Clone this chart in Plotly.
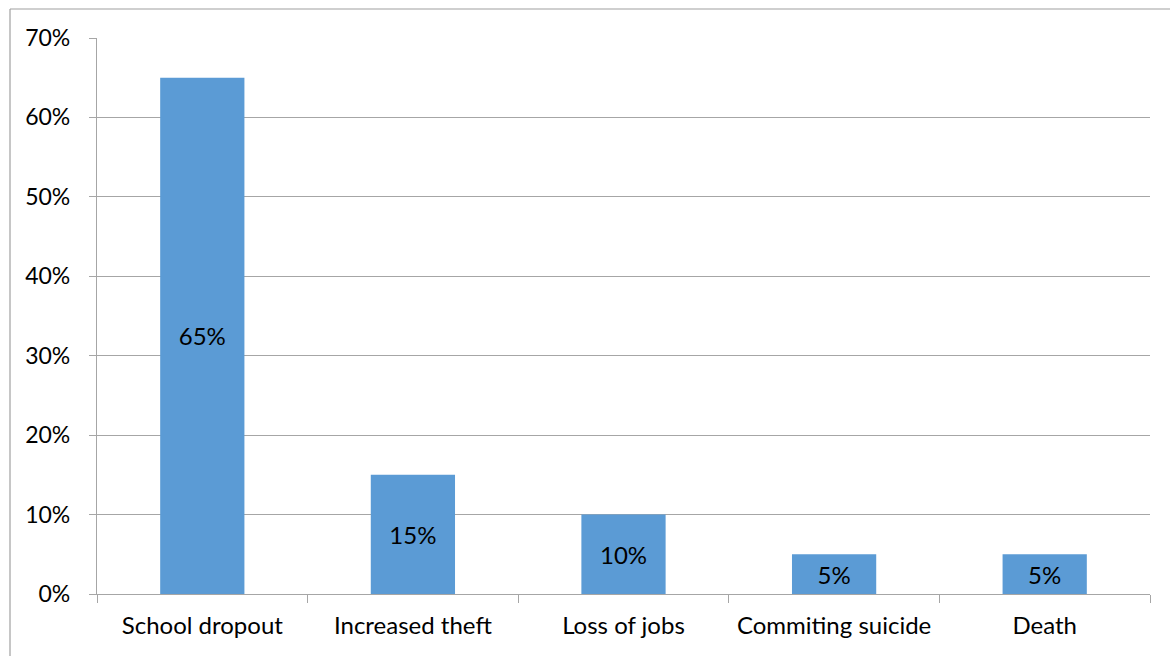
import plotly.graph_objects as go

# Consequences and their share of responses
categories = ["School dropout", "Increased theft", "Loss of jobs", "Commiting suicide", "Death"]
shares = [0.65, 0.15, 0.10, 0.05, 0.05]
y_ticks = [0, 0.1, 0.2, 0.3, 0.4, 0.5, 0.6, 0.7]

W, H = 1170, 656
L, R, T, B = 97, 20, 38, 62
plot_w = W - L - R
plot_h = H - T - B

FONT = "Lato"
GRID = "#A6A6A6"
SIZE = 24

fig = go.Figure(
    go.Bar(
        x=categories,
        y=shares,
        marker=dict(color="#5B9BD5", line=dict(width=0)),
        text=[f"{v:.0%}" for v in shares],
        textposition="inside",
        insidetextanchor="middle",
        constraintext="none",
        textfont=dict(family=FONT, size=SIZE, color="#000000"),
        hoverinfo="skip",
    )
)

# frame around the chart area (left and top edges)
fx = (10 - L) / plot_w
fy = (H - B - 9) / plot_h
fig.add_shape(type="line", xref="paper", yref="paper", x0=fx, x1=1.2, y0=fy, y1=fy,
              line=dict(color="#A0A0A0", width=1.2))
fig.add_shape(type="line", xref="paper", yref="paper", x0=fx, x1=fx, y0=fy, y1=-0.2,
              line=dict(color="#A0A0A0", width=1.2))

fig.update_layout(
    width=W,
    height=H,
    margin=dict(l=L, r=R, t=T, b=B),
    paper_bgcolor="white",
    plot_bgcolor="white",
    bargap=0.6,
    showlegend=False,
    font=dict(family=FONT, size=SIZE, color="#000000"),
)
fig.update_xaxes(
    showline=True, linecolor=GRID, linewidth=1.2,
    ticks="outside", tickson="boundaries", ticklen=8, tickcolor=GRID, tickwidth=1.2,
    showgrid=False, tickfont=dict(family=FONT, size=SIZE),
    ticklabelstandoff=10,
)
fig.update_yaxes(
    range=[0, 0.7], tickvals=y_ticks, tickformat=".0%",
    showline=True, linecolor=GRID, linewidth=1.2,
    ticks="outside", ticklen=7, tickcolor=GRID, tickwidth=1.2,
    showgrid=True, gridcolor=GRID, gridwidth=1.2,
    zeroline=False, tickfont=dict(family=FONT, size=SIZE - 1),
    ticklabelstandoff=14,
)

fig.write_html("out.html")
